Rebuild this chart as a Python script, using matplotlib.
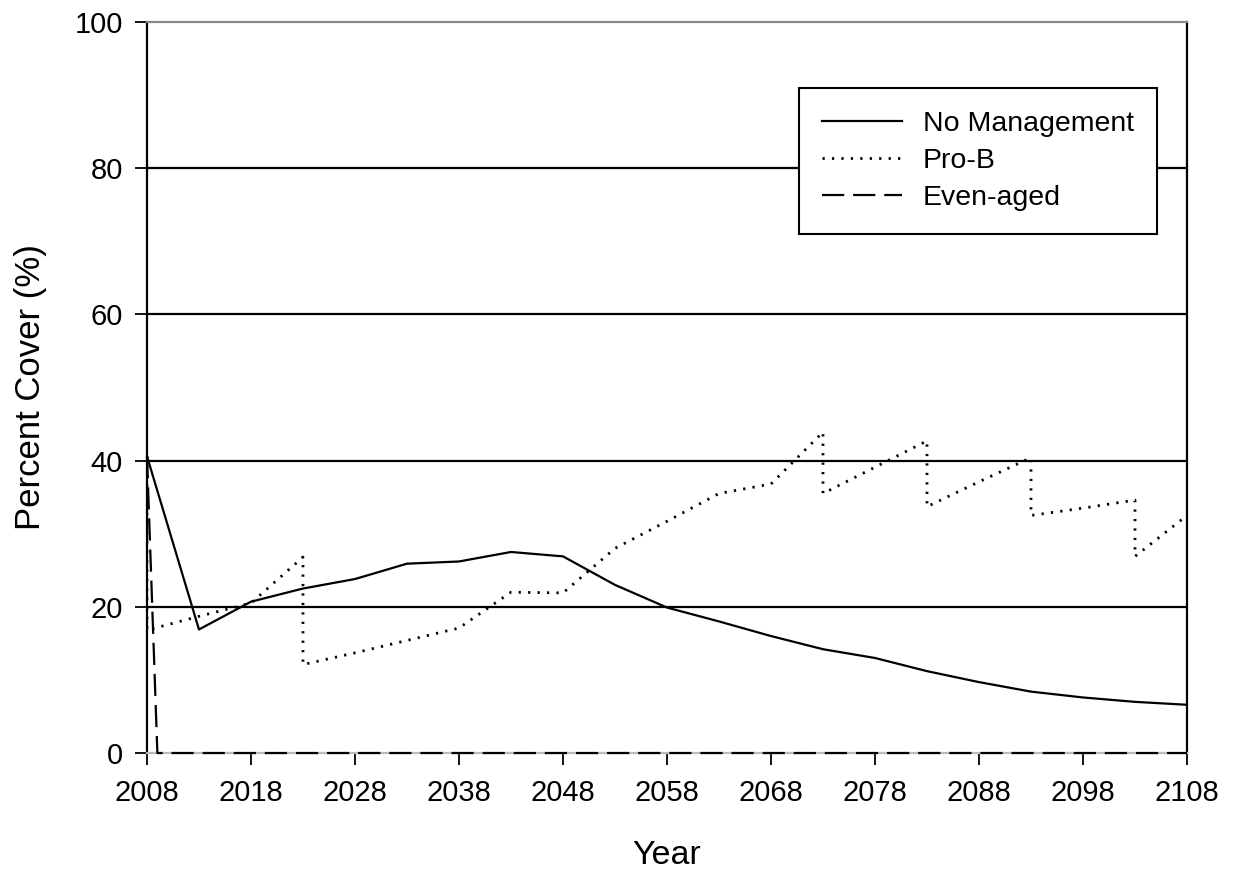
import matplotlib
matplotlib.use("Agg")
import matplotlib.pyplot as plt

plt.rcParams['font.family'] = ['Liberation Sans', 'DejaVu Sans']

# No Management, every 5 years
years_nm = [2008, 2013, 2018, 2023, 2028, 2033, 2038, 2043, 2048, 2053, 2058,
            2063, 2068, 2073, 2078, 2083, 2088, 2093, 2098, 2103, 2108]
no_mgmt = [40.6, 16.9, 20.7, 22.5, 23.8, 25.9, 26.2, 27.5, 26.9, 23.0, 19.9,
           18.0, 16.0, 14.2, 13.0, 11.2, 9.7, 8.4, 7.6, 7.0, 6.6]

# Pro-B (treatment years appear twice: before / after cut)
years_pb = [2008, 2008, 2013, 2018, 2023, 2023, 2028, 2033, 2038, 2043, 2048,
            2053, 2058, 2063, 2068, 2073, 2073, 2078, 2083, 2083, 2088, 2093,
            2093, 2098, 2103, 2103, 2108]
pro_b = [40.6, 16.8, 18.7, 20.5, 26.8, 12.1, 13.7, 15.4, 17.1, 22.0, 21.9,
         28.0, 31.7, 35.5, 36.8, 43.9, 35.5, 39.1, 42.7, 33.7, 37.1, 40.4,
         32.5, 33.5, 34.6, 26.9, 32.5]

# Even-aged
years_ea = [2008, 2009, 2108]
even_aged = [40.6, 0, 0]

x_ticks = list(range(2008, 2109, 10))
y_ticks = [0, 20, 40, 60, 80, 100]


def main():
    fig = plt.figure(figsize=(12.33, 8.75), dpi=100)
    ax = fig.add_axes([0.1192, 0.1394, 0.8435, 0.8355])

    # horizontal grid lines
    for yv in y_ticks[1:-1]:
        ax.axhline(yv, color='black', lw=1.6, zorder=1)

    ax.plot(years_nm, no_mgmt, color='black', lw=1.6, label='No Management',
            zorder=3)
    ax.plot(years_pb, pro_b, color='black', lw=2.0, linestyle=(0, (0.8, 2.6)),
            label='Pro-B', zorder=3)
    ax.plot(years_ea, even_aged, color='black', lw=1.6,
            linestyle=(0, (10, 4)), label='Even-aged', zorder=4, clip_on=False)

    ax.set_xlim(2008, 2108)
    ax.set_ylim(0, 100)
    ax.set_xticks(x_ticks)
    ax.set_yticks(y_ticks)
    ax.tick_params(axis='both', direction='out', length=8.5, width=1.3,
                   labelsize=21, color='black')
    ax.tick_params(axis='x', pad=10)
    ax.tick_params(axis='y', pad=9)

    for side in ['left', 'right']:
        ax.spines[side].set_linewidth(1.6)
    ax.spines['top'].set_color('#888888')
    ax.spines['top'].set_linewidth(1.6)
    ax.spines['bottom'].set_color('#bbbbbb')
    ax.spines['bottom'].set_linewidth(1.6)

    ax.set_xlabel('Year', fontsize=24.5, labelpad=24)
    ax.set_ylabel('Percent Cover (%)', fontsize=25, labelpad=20)

    leg = ax.legend(loc='upper right', bbox_to_anchor=(0.971, 0.910),
                    fontsize=20.5, frameon=True, fancybox=False,
                    handlelength=2.8, handletextpad=0.75, labelspacing=0.40,
                    borderpad=0.8, borderaxespad=0)
    leg.get_frame().set_edgecolor('black')
    leg.get_frame().set_linewidth(1.5)
    leg.get_frame().set_alpha(1)

    fig.savefig('out.png', dpi=100)


if __name__ == "__main__":
    main()
